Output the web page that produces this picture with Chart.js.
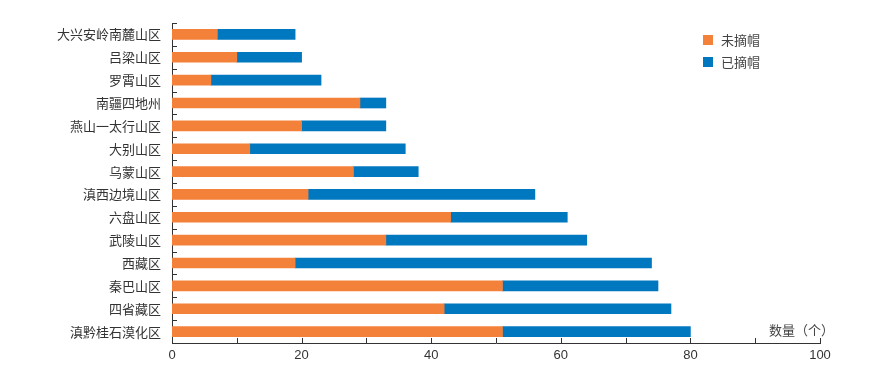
<!DOCTYPE html>
<html>
<head>
<meta charset="utf-8">
<script src="https://cdn.jsdelivr.net/npm/chart.js@4/dist/chart.umd.min.js"></script>
<style>
  html, body { margin: 0; padding: 0; background: #fff; }
  #wrap { width: 871px; height: 367px; }
</style>
</head>
<body>
<div id="wrap"><canvas id="chart" width="871" height="367"></canvas></div>
<script>
const regions = ['大兴安岭南麓山区', '吕梁山区', '罗霄山区', '南疆四地州', '燕山一太行山区', '大别山区', '乌蒙山区',
    '滇西边境山区', '六盘山区', '武陵山区', '西藏区', '秦巴山区', '四省藏区', '滇黔桂石漠化区'];
const notRemoved = [7, 10, 6, 29, 20, 12, 28, 21, 43, 33, 19, 51, 42, 51];
const removed = [12, 10, 17, 4, 13, 24, 10, 35, 18, 31, 55, 24, 35, 29];
const xTicks = [0, 20, 40, 60, 80, 100];
const minorTicks = [0, 10, 20, 30, 40, 50, 60, 70, 80, 90, 100];

const ORANGE = '#F4813A';
const BLUE = '#0078C0';
const AXIS = '#333333';
const CJK = '"Noto Sans CJK SC", sans-serif';

// inward tick marks, axis unit label and legend
const decorations = {
    id: 'decorations',
    afterDraw(chart) {
        const ctx = chart.ctx;
        const x = chart.scales.x;
        const y = chart.scales.y;
        const area = chart.chartArea;
        ctx.save();
        ctx.strokeStyle = AXIS;
        ctx.lineWidth = 1;
        ctx.beginPath();
        minorTicks.forEach(v => {
            const px = Math.round(x.getPixelForValue(v)) + 0.5;
            ctx.moveTo(px, area.bottom);
            ctx.lineTo(px, area.bottom - 5);
        });
        for (let i = 0; i <= regions.length; i++) {
            const py = Math.round(y.getPixelForValue(i - 0.5)) + 0.5;
            ctx.moveTo(area.left, py);
            ctx.lineTo(area.left + 5, py);
        }
        ctx.stroke();

        ctx.fillStyle = '#444';
        ctx.font = '13px ' + CJK;
        ctx.textAlign = 'right';
        ctx.textBaseline = 'middle';
        ctx.fillText('数量（个）', 834, 330);

        chart.data.datasets.forEach((ds, i) => {
            const ly = 40 + i * 22;
            ctx.fillStyle = ds.backgroundColor;
            ctx.fillRect(703, ly - 5, 10, 10);
            ctx.fillStyle = '#444';
            ctx.textAlign = 'left';
            ctx.fillText(ds.label, 721, ly);
        });
        ctx.restore();
    }
};

new Chart(document.getElementById('chart'), {
    type: 'bar',
    data: {
        labels: regions,
        datasets: [
            { label: '未摘帽', data: notRemoved, backgroundColor: ORANGE, barThickness: 10 },
            { label: '已摘帽', data: removed, backgroundColor: BLUE, barThickness: 10 }
        ]
    },
    options: {
        indexAxis: 'y',
        responsive: false,
        animation: false,
        layout: { padding: { top: 23, right: 51, left: 0, bottom: 0 } },
        scales: {
            x: {
                stacked: true,
                min: 0,
                max: 100,
                afterBuildTicks: scale => { scale.ticks = xTicks.map(v => ({ value: v })); },
                afterFit: scale => { scale.height = 24; },
                grid: { display: false, drawTicks: false },
                border: { display: true, color: AXIS, width: 1 },
                ticks: { padding: 5, color: '#333', font: { size: 13, family: '"Liberation Sans", Arial, sans-serif' } }
            },
            y: {
                stacked: true,
                afterFit: scale => { scale.width = 172; },
                grid: { display: false, drawTicks: false },
                border: { display: true, color: AXIS, width: 1 },
                ticks: { padding: 11, color: '#333', font: { size: 13, family: CJK } }
            }
        },
        plugins: {
            legend: { display: false },
            tooltip: { enabled: false }
        }
    },
    plugins: [decorations]
});
</script>
</body>
</html>
